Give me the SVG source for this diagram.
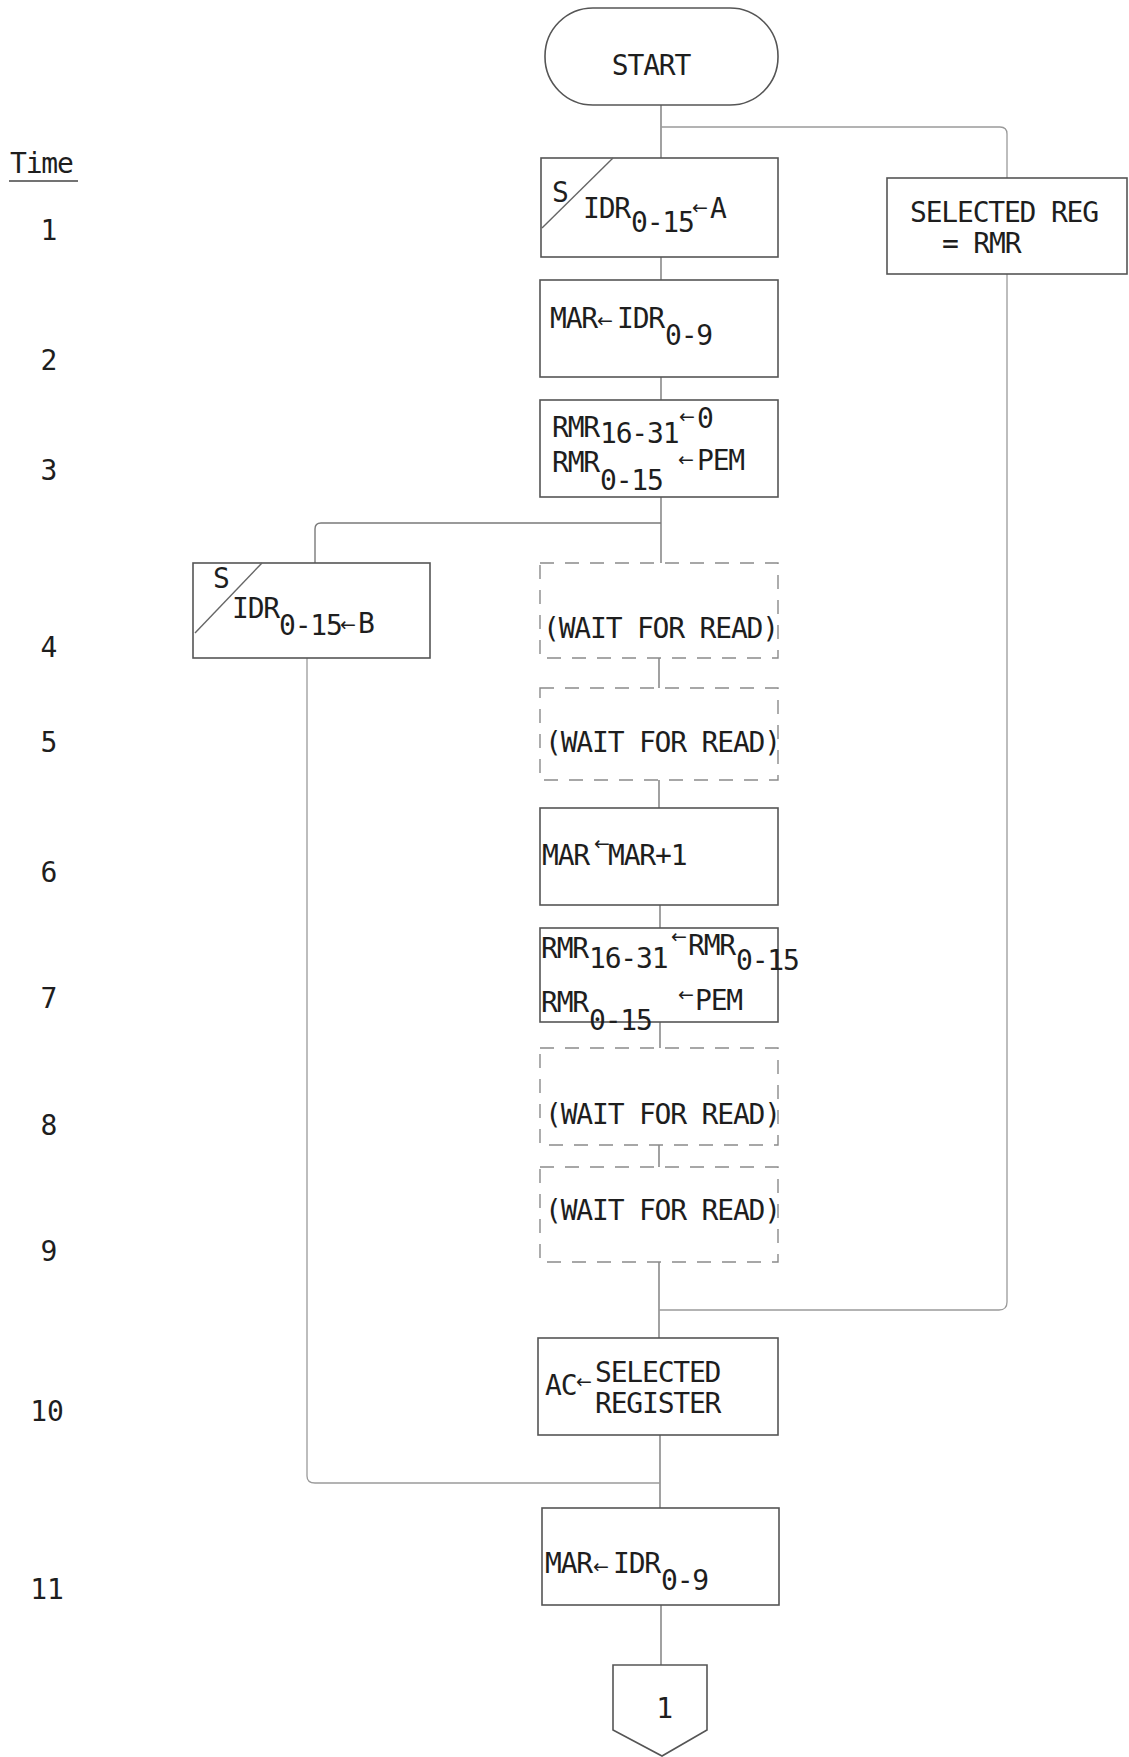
<svg xmlns="http://www.w3.org/2000/svg" width="1129" height="1757" viewBox="0 0 1129 1757">
<style>
.t { font-family: "DejaVu Sans Mono", "Liberation Mono", monospace; font-size: 28px; letter-spacing: -1.2px; fill: #1e1e1e; }
.ar { font-family: "DejaVu Sans", "Liberation Sans", sans-serif; font-size: 19px; letter-spacing: 0; }
.lbl { font-size: 28px; text-anchor: middle; letter-spacing: 0; }
.box { fill: #fff; stroke: #555; stroke-width: 1.6; }
.dbox { fill: #fff; stroke: #8a8a8a; stroke-width: 1.4; stroke-dasharray: 14 11; }
.diag { fill: none; stroke: #666; stroke-width: 1.4; }
.conn { fill: none; stroke: #7a7a7a; stroke-width: 1.4; }
.conn2 { fill: none; stroke: #9a9a9a; stroke-width: 1.3; }
</style>

<g id="time-column">
  <text class="t" x="10" y="173">Time</text>
  <line x1="9" y1="181" x2="78" y2="181" stroke="#444" stroke-width="1.6"/>
  <text class="t lbl" x="49" y="240">1</text>
  <text class="t lbl" x="49" y="370">2</text>
  <text class="t lbl" x="49" y="480">3</text>
  <text class="t lbl" x="49" y="657">4</text>
  <text class="t lbl" x="49" y="752">5</text>
  <text class="t lbl" x="49" y="882">6</text>
  <text class="t lbl" x="49" y="1008">7</text>
  <text class="t lbl" x="49" y="1135">8</text>
  <text class="t lbl" x="49" y="1261">9</text>
  <text class="t lbl" x="47" y="1421">10</text>
  <text class="t lbl" x="47" y="1599">11</text>
</g>

<g id="connectors">
  <path class="conn" d="M661 105 V158"/>
  <path class="conn2" d="M661 127 H1000 Q1007 127 1007 134 V178"/>
  <path class="conn" d="M661 257 V280"/>
  <path class="conn" d="M661 377 V400"/>
  <path class="conn" d="M661 497 V563"/>
  <path class="conn" d="M661 523 H321 Q315 523 315 529 V563"/>
  <path class="conn" d="M659 658 V688"/>
  <path class="conn" d="M659 780 V808"/>
  <path class="conn" d="M660 905 V928"/>
  <path class="conn" d="M660 1022 V1048"/>
  <path class="conn" d="M659 1145 V1167"/>
  <path class="conn" d="M659 1262 V1338"/>
  <path class="conn2" d="M1007 274 V1302 Q1007 1310 999 1310 H659"/>
  <path class="conn" d="M660 1435 V1508"/>
  <path class="conn2" d="M307 658 V1476 Q307 1483 315 1483 H660"/>
  <path class="conn" d="M661 1605 V1665"/>
</g>

<g id="start">
  <rect class="box" x="545" y="8" width="233" height="97" rx="48" ry="48"/>
  <text class="t" x="651" y="75" text-anchor="middle">START</text>
</g>

<g id="n1-idr-a">
  <rect class="box" x="541" y="158" width="237" height="99"/>
  <line class="diag" x1="542" y1="228" x2="613" y2="158"/>
  <text class="t" x="552" y="202">S</text>
  <text class="t" x="583" y="218">IDR</text>
  <text class="t" x="631" y="232">0-15</text>
  <text class="t ar" x="692" y="214">←</text>
  <text class="t" x="710" y="218">A</text>
</g>

<g id="n-selected-reg">
  <rect class="box" x="887" y="178" width="240" height="96"/>
  <text class="t" x="910" y="222">SELECTED REG</text>
  <text class="t" x="942" y="253">= RMR</text>
</g>

<g id="n2-mar-idr">
  <rect class="box" x="540" y="280" width="238" height="97"/>
  <text class="t" x="550" y="328">MAR</text>
  <text class="t ar" x="597" y="327">←</text>
  <text class="t" x="617" y="328">IDR</text>
  <text class="t" x="665" y="345">0-9</text>
</g>

<g id="n3-rmr">
  <rect class="box" x="540" y="400" width="238" height="97"/>
  <text class="t" x="552" y="437">RMR</text>
  <text class="t" x="600" y="443">16-31</text>
  <text class="t ar" x="679" y="423">←</text>
  <text class="t" x="697" y="428">0</text>
  <text class="t" x="552" y="472">RMR</text>
  <text class="t" x="600" y="490">0-15</text>
  <text class="t ar" x="678" y="466">←</text>
  <text class="t" x="697" y="470">PEM</text>
</g>

<g id="n4-idr-b">
  <rect class="box" x="193" y="563" width="237" height="95"/>
  <line class="diag" x1="195" y1="633" x2="262" y2="563"/>
  <text class="t" x="213" y="588">S</text>
  <text class="t" x="232" y="618">IDR</text>
  <text class="t" x="279" y="635">0-15</text>
  <text class="t ar" x="340" y="631">←</text>
  <text class="t" x="358" y="633">B</text>
</g>

<g id="n4-wait">
  <rect class="dbox" x="540" y="563" width="238" height="95"/>
  <text class="t" x="543" y="638">(WAIT FOR READ)</text>
</g>

<g id="n5-wait">
  <rect class="dbox" x="540" y="688" width="238" height="92"/>
  <text class="t" x="545" y="752">(WAIT FOR READ)</text>
</g>

<g id="n6-mar-inc">
  <rect class="box" x="540" y="808" width="238" height="97"/>
  <text class="t" x="542" y="865">MAR</text>
  <text class="t ar" x="594" y="850">←</text>
  <text class="t" x="608" y="865">MAR+1</text>
</g>

<g id="n7-rmr">
  <rect class="box" x="540" y="928" width="238" height="94"/>
  <text class="t" x="541" y="958">RMR</text>
  <text class="t" x="589" y="968">16-31</text>
  <text class="t ar" x="671" y="943">←</text>
  <text class="t" x="688" y="955">RMR</text>
  <text class="t" x="736" y="970">0-15</text>
  <text class="t" x="541" y="1012">RMR</text>
  <text class="t" x="589" y="1030">0-15</text>
  <text class="t ar" x="678" y="1001">←</text>
  <text class="t" x="695" y="1010">PEM</text>
</g>

<g id="n8-wait">
  <rect class="dbox" x="540" y="1048" width="238" height="97"/>
  <text class="t" x="545" y="1124">(WAIT FOR READ)</text>
</g>

<g id="n9-wait">
  <rect class="dbox" x="540" y="1167" width="238" height="95"/>
  <text class="t" x="545" y="1220">(WAIT FOR READ)</text>
</g>

<g id="n10-ac">
  <rect class="box" x="538" y="1338" width="240" height="97"/>
  <text class="t" x="545" y="1395">AC</text>
  <text class="t ar" x="576" y="1388">←</text>
  <text class="t" x="595" y="1382">SELECTED</text>
  <text class="t" x="595" y="1413">REGISTER</text>
</g>

<g id="n11-mar-idr">
  <rect class="box" x="542" y="1508" width="237" height="97"/>
  <text class="t" x="545" y="1573">MAR</text>
  <text class="t ar" x="593" y="1573">←</text>
  <text class="t" x="613" y="1573">IDR</text>
  <text class="t" x="661" y="1590">0-9</text>
</g>

<g id="offpage-1">
  <polygon class="box" points="613,1665 707,1665 707,1730 662,1756 613,1730"/>
  <text class="t" x="664" y="1718" text-anchor="middle">1</text>
</g>
</svg>
